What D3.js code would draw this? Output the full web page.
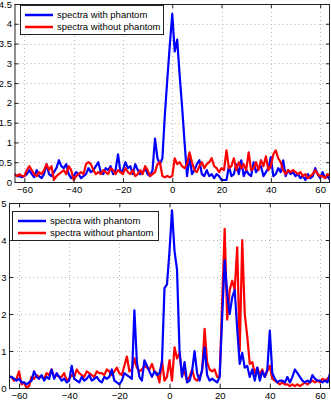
<!DOCTYPE html>
<html>
<head>
<meta charset="utf-8">
<script src="https://cdn.jsdelivr.net/npm/d3@7"></script>
<style>
  body { margin: 0; background: #fff; }
  svg { display: block; font-family: "Liberation Sans", Arial, sans-serif; }
</style>
</head>
<body>
<svg id="chart"></svg>
<script>
const width = 331;
const height = 400;

// frequency bins, -64 .. 64
const shifts = d3.range(-64, 65);
const xTicks = [-60, -40, -20, 0, 20, 40, 60];
const topYTicks = [0, 0.5, 1, 1.5, 2, 2.5, 3, 3.5, 4, 4.5];
const botYTicks = [0, 1, 2, 3, 4, 5];
const seriesNames = ["spectra with phantom", "spectra without phantom"];

const topWith = [
  0.2, 0.15, 0.15, 0.12, 0.15, 0.2, 0.3, 0.2,
  0.12, 0.3, 0.15, 0.1, 0.2, 0.45, 0.2, 0.15,
  0.25, 0.35, 0.55, 0.4, 0.35, 0.45, 0.2, 0.1,
  0.15, 0.25, 0.2, 0.1, 0.15, 0.2, 0.35, 0.25,
  0.3, 0.4, 0.5, 0.25, 0.2, 0.35, 0.3, 0.4,
  0.2, 0.3, 0.7, 0.25, 0.3, 0.5, 0.35, 0.4,
  0.2, 0.45, 0.3, 0.2, 0.25, 0.35, 0.2, 0.15,
  0.3, 1.1, 0.6, 0.45, 0.6, 1.7, 2.6, 3.45,
  4.25, 3.3, 3.6, 2.7, 1.9, 1.0, 0.15, 0.65,
  0.2, 0.3, 0.45, 0.55, 0.2, 0.15, 0.3, 0.15,
  0.2, 0.1, 0.2, 0.15, 0.05, 0.05, 0.05, 0.4,
  0.15, 0.2, 0.45, 0.2, 0.55, 0.15, 0.3, 0.2,
  0.15, 0.5, 0.25, 0.35, 0.4, 0.15, 0.25, 0.35,
  0.63, 0.15, 0.2, 0.35, 0.25, 0.55, 0.15, 0.3,
  0.2, 0.25, 0.15, 0.2, 0.1, 0.15, 0.05, 0.2,
  0.1, 0.15, 0.35, 0.2, 0.1, 0.25, 0.1, 0.15,
  0.05
];

const topWithout = [
  0.2, 0.15, 0.2, 0.15, 0.15, 0.3, 0.4, 0.3,
  0.2, 0.15, 0.25, 0.2, 0.3, 0.45, 0.3, 0.4,
  0.05, 0.15, 0.2, 0.25, 0.3, 0.2, 0.4, 0.3,
  0.05, 0.15, 0.2, 0.25, 0.2, 0.45, 0.5, 0.45,
  0.3, 0.2, 0.25, 0.2, 0.3, 0.25, 0.2, 0.35,
  0.3, 0.2, 0.3, 0.25, 0.2, 0.35, 0.25, 0.2,
  0.3, 0.15, 0.2, 0.3, 0.2, 0.4, 0.3, 0.15,
  0.2, 0.25, 0.45, 0.5, 0.15, 0.12, 0.15, 0.12,
  0.15, 0.6, 0.45, 0.5, 0.4, 0.35, 0.45, 0.75,
  0.5, 0.3, 0.25, 0.4, 0.5, 0.35, 0.45, 0.5,
  0.6, 0.4, 0.35, 0.25, 0.35, 0.3, 0.8, 0.35,
  0.4, 0.6, 0.3, 0.5, 0.35, 0.45, 0.3, 0.75,
  0.3, 0.35, 0.5, 0.3, 0.55, 0.4, 0.65, 0.3,
  0.4, 0.7, 0.8, 0.6, 0.5, 0.3, 0.2, 0.3,
  0.25, 0.3, 0.25, 0.2, 0.25, 0.15, 0.2, 0.1,
  0.15, 0.2, 0.3, 0.2, 0.15, 0.15, 0.1, 0.2,
  0.15
];

const botWith = [
  0.3, 0.3, 0.25, 0.2, 0.25, 0.15, 0.15, 0.1,
  0.15, 0.2, 0.45, 0.3, 0.25, 0.35, 0.2, 0.3,
  0.25, 0.5, 0.25, 0.4, 0.3, 0.2, 0.25, 0.15,
  0.2, 0.6, 0.25, 0.2, 0.15, 0.3, 0.2, 0.25,
  0.35, 0.2, 0.25, 0.3, 0.2, 0.15, 0.3, 0.25,
  0.3, 0.5, 0.2, 0.15, 0.1, 0.2, 0.4, 0.35,
  0.3, 0.25, 2.1, 0.7, 0.3, 0.2, 0.75, 0.6,
  0.45, 0.3, 0.45, 0.35, 0.4, 0.7, 2.7, 2.8,
  3.7, 4.8, 3.7, 3.2, 1.0, 0.3, 0.7, 0.15,
  0.2, 0.45, 1.0, 0.4, 0.2, 0.5, 1.1, 0.35,
  0.2, 0.25, 0.2, 0.15, 0.3, 1.9, 3.45, 2.55,
  2.0, 2.45, 2.65, 1.6, 0.65, 0.95, 0.55, 0.6,
  0.3, 0.5, 0.2, 0.55, 0.2, 0.45, 0.3, 0.5,
  1.55, 0.4, 0.25, 0.15, 0.2, 0.2, 0.15, 0.3,
  0.15, 0.3, 0.5, 0.4, 0.3, 0.2, 0.15, 0.2,
  0.15, 0.35, 0.25, 0.2, 0.2, 0.15, 0.2, 0.15,
  0.4
];

const botWithout = [
  0.3, 0.3, 0.2, 0.25, 0.45, 0.1, 0.15, 0.0,
  0.05, 0.3, 0.25, 0.35, 0.3, 0.3, 0.25, 0.4,
  0.35, 0.5, 0.3, 0.35, 0.3, 0.3, 0.4, 0.2,
  0.25, 0.35, 0.3, 0.5, 0.4, 0.35, 0.3, 0.45,
  0.4, 0.35, 0.3, 0.45, 0.4, 0.4, 0.35, 0.5,
  0.45, 0.35, 0.45, 0.55, 0.4, 0.35, 0.6, 0.85,
  0.45, 0.5, 0.8, 0.55, 0.45, 0.5, 0.6, 0.55,
  0.5, 0.65, 0.45, 0.4, 0.15, 0.75, 0.2, 0.3,
  0.75, 0.2, 1.1, 0.8, 0.95, 0.35, 0.45, 0.2,
  0.3, 0.5, 0.25, 0.2, 0.3, 0.45, 1.6, 0.7,
  0.5, 0.45, 0.5, 0.3, 0.3, 2.3, 4.3, 1.85,
  2.65, 2.9, 2.65, 3.8, 1.0, 4.0, 2.0, 1.4,
  0.65, 0.7, 0.4, 0.55, 0.35, 0.5, 0.3, 0.45,
  0.6, 0.25, 0.2, 0.15, 0.1, 0.15, 0.1, 0.1,
  0.05, 0.1, 0.05, 0.1, 0.05, 0.1, 0.15, 0.1,
  0.15, 0.2, 0.15, 0.2, 0.15, 0.25, 0.2, 0.25,
  0.3
];

const svg = d3.select("#chart")
  .attr("width", width)
  .attr("height", height);

function drawPanel(p) {
  const x = d3.scaleLinear().domain([-64, 64]).range([p.left, p.right]);
  const y = d3.scaleLinear().domain([0, p.yMax]).range([p.bottom, p.top]);
  const g = svg.append("g");

  // dotted grid
  g.append("g").selectAll("line")
    .data(xTicks)
    .join("line")
    .attr("x1", d => Math.round(x(d)) + 0.5)
    .attr("x2", d => Math.round(x(d)) + 0.5)
    .attr("y1", p.top)
    .attr("y2", p.bottom)
    .attr("stroke", "#b4b4b4")
    .attr("stroke-dasharray", "1,3");

  g.append("g").selectAll("line")
    .data(p.yTicks)
    .join("line")
    .attr("x1", p.left)
    .attr("x2", p.right)
    .attr("y1", d => Math.round(y(d)) + 0.5)
    .attr("y2", d => Math.round(y(d)) + 0.5)
    .attr("stroke", "#b4b4b4")
    .attr("stroke-dasharray", "1,3");

  // spectra, clipped to the axes box
  const clipId = "clip" + p.id;
  svg.append("clipPath").attr("id", clipId)
    .append("rect")
    .attr("x", p.left).attr("y", p.top)
    .attr("width", p.right - p.left).attr("height", p.bottom - p.top);

  const line = d3.line()
    .x((d, i) => x(shifts[i]))
    .y(d => y(d));

  p.order.forEach(k => {
    g.append("path")
      .datum(p.series[k])
      .attr("clip-path", `url(#${clipId})`)
      .attr("fill", "none")
      .attr("stroke", p.colors[k])
      .attr("stroke-width", 2.2)
      .attr("stroke-linejoin", "round")
      .attr("d", line);
  });

  // axes with inward ticks on all four sides
  const bottomAxis = g.append("g")
    .attr("transform", `translate(0,${p.bottom})`)
    .call(d3.axisBottom(x).tickValues(xTicks).tickSize(-4).tickPadding(4));
  g.append("g")
    .attr("transform", `translate(0,${p.top})`)
    .call(d3.axisTop(x).tickValues(xTicks).tickSize(-4).tickFormat(""));
  const leftAxis = g.append("g")
    .attr("transform", `translate(${p.left},0)`)
    .call(d3.axisLeft(y).tickValues(p.yTicks).tickSize(-4).tickPadding(2.5)
      .tickFormat(d3.format("~g")));
  g.append("g")
    .attr("transform", `translate(${p.right},0)`)
    .call(d3.axisRight(y).tickValues(p.yTicks).tickSize(-4).tickFormat(""));

  g.selectAll(".domain").remove();
  g.selectAll(".tick line").attr("stroke", "#222");
  [bottomAxis, leftAxis].forEach(a => a.selectAll("text")
    .attr("font-size", 9.5)
    .attr("fill", "#000")
    .attr("font-family", "Liberation Sans, Arial, sans-serif"));

  g.append("rect")
    .attr("x", p.left + 0.5)
    .attr("y", p.top + 0.5)
    .attr("width", p.right - p.left - 1)
    .attr("height", p.bottom - p.top)
    .attr("fill", "none")
    .attr("stroke", "#222");

  // legend
  const lg = g.append("g").attr("transform", `translate(${p.legend.x},${p.legend.y})`);
  lg.append("rect")
    .attr("x", 0.5).attr("y", 0.5)
    .attr("width", p.legend.w).attr("height", 29)
    .attr("fill", "#fff")
    .attr("stroke", "#222");
  [0, 1].forEach(k => {
    const cy = 10 + k * 12;
    lg.append("line")
      .attr("x1", p.legend.lx).attr("x2", p.legend.lx + 28)
      .attr("y1", cy).attr("y2", cy)
      .attr("stroke", p.colors[k])
      .attr("stroke-width", 2.5);
    lg.append("text")
      .attr("x", p.legend.lx + 32)
      .attr("y", cy + 3.4)
      .attr("font-size", 9.5)
      .text(seriesNames[k]);
  });
}

drawPanel({
  id: "top", left: 14.5, right: 330, top: 4, bottom: 182,
  yMax: 4.5, yTicks: topYTicks,
  series: [topWith, topWithout], colors: ["#0000ff", "#ff0000"], order: [0, 1],
  legend: { x: 20, y: 5, w: 143, lx: 5 }
});

drawPanel({
  id: "bot", left: 9, right: 330, top: 203, bottom: 388,
  yMax: 5, yTicks: botYTicks,
  series: [botWith, botWithout], colors: ["#0000ff", "#ff0000"], order: [1, 0],
  legend: { x: 12, y: 211, w: 146, lx: 6 }
});
</script>
</body>
</html>
